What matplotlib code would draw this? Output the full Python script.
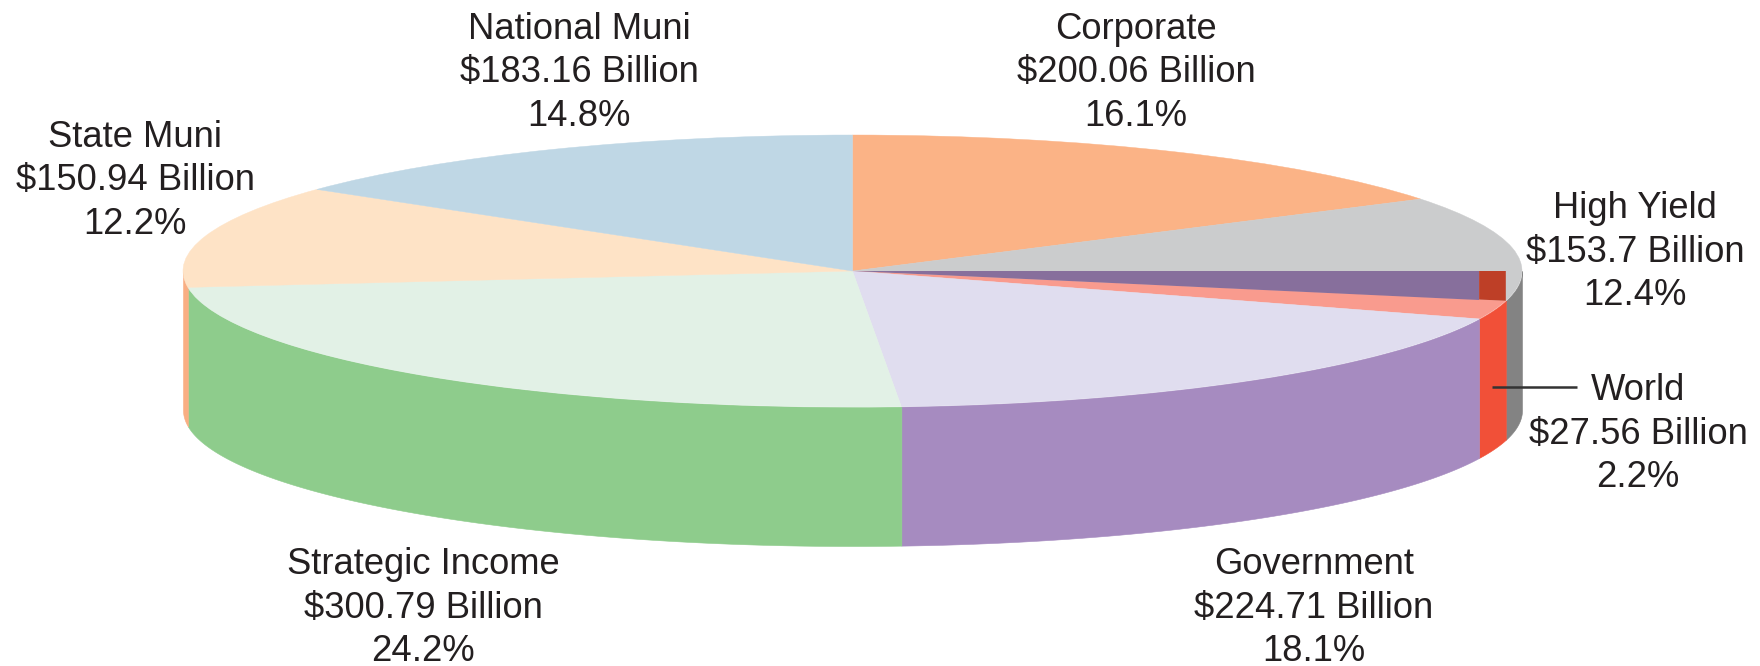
import matplotlib
matplotlib.use('Agg')
import matplotlib.pyplot as plt
import numpy as np

names    = ['Corporate', 'High Yield', 'World', 'Government', 'Strategic Income', 'State Muni', 'National Muni']
billions = [200.06, 153.7, 27.56, 224.71, 300.79, 150.94, 183.16]
percents = [16.1, 12.4, 2.2, 18.1, 24.2, 12.2, 14.8]

top_colors  = ['#FBB386', '#CBCCCD', '#F99B8E', '#E0DDEF', '#E2F1E6', '#FEE3C6', '#BFD7E5']
side_colors = ['#FBB386', '#838383', '#F15038', '#A68BC0', '#8ECC8C', '#F9AE83', '#BFD7E5']

W, H = 1760, 666
cx, cy = 852.5, 271     # pie centre, pixels from top left
rx, ry = 669.5, 136
depth  = 139 / ry

plt.rcParams['font.family'] = ['Liberation Sans', 'DejaVu Sans']

fig = plt.figure(figsize=(W / 100, H / 100), dpi=100)
ax = fig.add_axes([0, 0, 1, 1])

# angle of every slice edge, clockwise from 12 o'clock
edges = 90 - 360 * np.cumsum([0] + billions) / np.sum(billions)

# side wall, only the part facing the viewer (below the horizontal)
for i in range(len(billions)):
    a0 = max(edges[i + 1], -180)
    a1 = min(edges[i], 0)
    if a0 >= a1:
        continue
    t = np.radians(np.linspace(a0, a1, 200))
    ax.fill_between(np.cos(t), np.sin(t), np.sin(t) - depth, color=side_colors[i], lw=0.4, zorder=1)

ax.pie(billions, colors=top_colors, startangle=90, counterclock=False, radius=1,
       wedgeprops={'linewidth': 0.3})
for w, c in zip(ax.patches, top_colors):
    w.set_edgecolor(c)
    w.set_zorder(2)

# dark band seen on the lower part of the High Yield slice
end_hy = np.radians(edges[2])
end_w  = np.radians(edges[3])
xe, ye = np.cos(end_hy), np.sin(end_hy)
xw = np.cos(end_w)
yw = xw * ye / xe
ax.fill([0, xw, xw], [0, 0, yw], color='#876F9C', lw=0, zorder=3)
ax.fill([xw, xe, xe, xw], [0, 0, ye, yw], color='#BE3F27', lw=0, zorder=3)

ax.set_aspect('auto')
ax.set_xlim(-cx / rx, (W - cx) / rx)
ax.set_ylim(-(H - cy) / ry, cy / ry)
ax.axis('off')

# leader for World
ax.plot([(1492 - cx) / rx, (1577 - cx) / rx], [(cy - 387) / ry] * 2, color='#333333', lw=1.8,
        solid_capstyle='butt', zorder=4)

label_x = [1136, 1635, 1638, 1314, 423, 135, 579]
label_y = [73, 252, 434, 608, 608, 181, 73]
for i in range(len(names)):
    s = f'{names[i]}\n${billions[i]:g} Billion\n{percents[i]}%'
    fig.text(label_x[i] / W, 1 - label_y[i] / H, s, ha='center', va='center', ma='center',
             fontsize=26.2, color='#231F20', linespacing=1.31)

fig.savefig('out.png', dpi=100)
